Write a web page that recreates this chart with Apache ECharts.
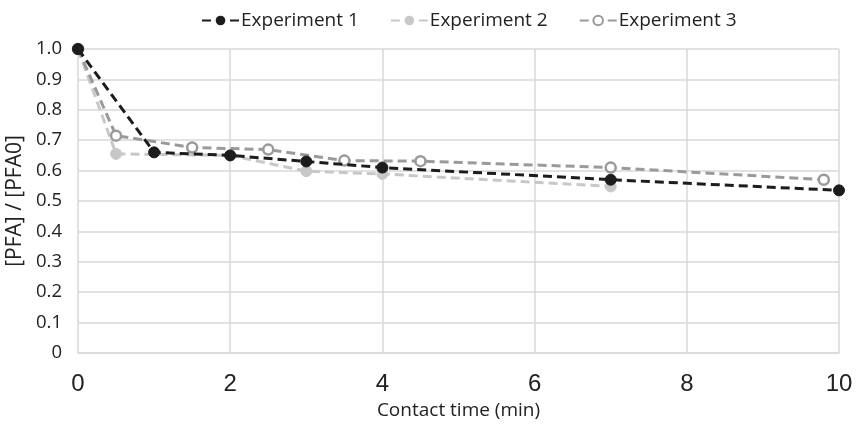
<!DOCTYPE html>
<html>
<head>
<meta charset="utf-8">
<script src="https://cdn.jsdelivr.net/npm/echarts@6/dist/echarts.min.js"></script>
<style>html,body{margin:0;padding:0;background:#fff}#c{width:857px;height:429px}</style>
</head>
<body>
<div id="c"></div>
<script>
var seriesNames = ['Experiment 1', 'Experiment 2', 'Experiment 3'];
var exp1X = [0, 1, 2, 3, 4, 7, 10];
var exp1Y = [1.0, 0.66, 0.65, 0.63, 0.61, 0.57, 0.535];
var exp2X = [0, 0.5, 2, 3, 4, 7];
var exp2Y = [1.0, 0.655, 0.65, 0.598, 0.589, 0.548];
var exp3X = [0, 0.5, 1.5, 2.5, 3.5, 4.5, 7, 9.8];
var exp3Y = [1.0, 0.715, 0.676, 0.669, 0.633, 0.631, 0.61, 0.57];
var xTicks = [0, 2, 4, 6, 8, 10];
var yTicks = [0, 0.1, 0.2, 0.3, 0.4, 0.5, 0.6, 0.7, 0.8, 0.9, 1.0];

function pairs(xs, ys) { return xs.map(function (x, i) { return [x, ys[i]]; }); }

var font = '"Open Sans", "Liberation Sans", sans-serif';
var numFont = '"Liberation Sans Narrow", "Liberation Sans", Arial, sans-serif';
var chart = echarts.init(document.getElementById('c'), null, {renderer: 'canvas'});
chart.setOption({
  animation: false,
  textStyle: {fontFamily: font},
  legend: {
    top: 6, left: 196, itemGap: 31, itemWidth: 37, itemHeight: 12,
    textStyle: {fontFamily: font, fontSize: 19, color: '#222', padding: [0, 0, 0, -3]},
    data: seriesNames
  },
  grid: {left: 78, right: 18, top: 49, bottom: 76, containLabel: false, outerBoundsMode: 'none'},
  xAxis: {
    type: 'value', min: xTicks[0], max: xTicks[xTicks.length - 1], interval: 2,
    name: 'Contact time (min)', nameLocation: 'middle', nameGap: 47,
    nameTextStyle: {fontFamily: font, fontSize: 19, color: '#222'},
    axisLine: {show: true, lineStyle: {color: '#d9d9d9', width: 1.5}},
    axisTick: {show: false},
    axisLabel: {fontFamily: numFont, fontSize: 24, color: '#222', margin: 19},
    splitLine: {show: true, lineStyle: {color: '#d9d9d9', width: 1.5}}
  },
  yAxis: {
    type: 'value', min: yTicks[0], max: yTicks[yTicks.length - 1], interval: 0.1,
    name: '[PFA] / [PFA0]', nameLocation: 'middle', nameGap: 47, nameRotate: 90,
    nameTextStyle: {fontFamily: font, fontSize: 21, color: '#222'},
    axisLine: {show: false},
    axisTick: {show: false},
    axisLabel: {fontFamily: font, fontSize: 18.5, color: '#222', margin: 16,
      formatter: function (v) { return v === 0 ? '0' : v.toFixed(1); }},
    splitLine: {show: true, lineStyle: {color: '#d9d9d9', width: 1.5}}
  },
  series: [
    {
      name: seriesNames[0], type: 'line', data: pairs(exp1X, exp1Y), z: 4,
      symbol: 'circle', symbolSize: 11,
      lineStyle: {color: '#1c1c1c', width: 3, type: [9, 5]},
      itemStyle: {color: '#1c1c1c', borderColor: '#1c1c1c'}
    },
    {
      name: seriesNames[1], type: 'line', data: pairs(exp2X, exp2Y), z: 2,
      symbol: 'circle', symbolSize: 11,
      lineStyle: {color: '#c8c8c8', width: 3, type: [9, 5]},
      itemStyle: {color: '#c8c8c8', borderColor: '#c8c8c8'}
    },
    {
      name: seriesNames[2], type: 'line', data: pairs(exp3X, exp3Y), z: 3,
      symbol: 'circle', symbolSize: 10,
      lineStyle: {color: '#9a9a9a', width: 3, type: [9, 5]},
      itemStyle: {color: '#ffffff', borderColor: '#9a9a9a', borderWidth: 2.5}
    }
  ]
});
</script>
</body>
</html>
